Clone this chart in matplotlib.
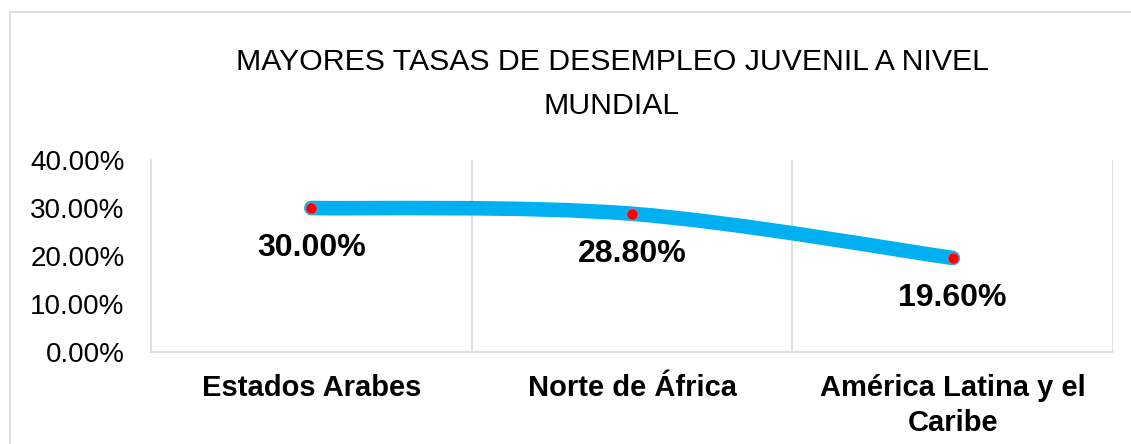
import matplotlib
matplotlib.use("Agg")
import matplotlib.pyplot as plt
from matplotlib.path import Path
from matplotlib.patches import PathPatch, Rectangle
import numpy as np

categories = ["Estados Arabes", "Norte de África", "América Latina y el\nCaribe"]
values = [0.30, 0.288, 0.196]
yticks = [0.0, 0.1, 0.2, 0.3, 0.4]
title = "MAYORES TASAS DE DESEMPLEO JUVENIL A NIVEL\nMUNDIAL"

plt.rcParams['font.family'] = ['Liberation Sans', 'DejaVu Sans']

fig = plt.figure(figsize=(11.31, 4.44), dpi=100)
ax = fig.add_axes([151/1131, 92/444, (1113-151)/1131, (352-160)/444])

# outer chart border
fig.patches.append(Rectangle((10/1131, -0.01), 1.02, (444-12)/444 + 0.01, transform=fig.transFigure,
                             fill=False, edgecolor='#D9D9D9', linewidth=1.2, clip_on=False))

x = np.arange(len(values))
y = np.array(values)

# smoothed line (Catmull-Rom style Bezier like Excel smoothing)
pts = list(zip(x, y))
verts = [pts[0]]
codes = [Path.MOVETO]
n = len(pts)
for i in range(n - 1):
    p0 = np.array(pts[i - 1] if i > 0 else pts[i])
    p1 = np.array(pts[i])
    p2 = np.array(pts[i + 1])
    p3 = np.array(pts[i + 2] if i + 2 < n else pts[i + 1])
    c1 = p1 + (p2 - p0) / 6
    c2 = p2 - (p3 - p1) / 6
    verts += [tuple(c1), tuple(c2), tuple(p2)]
    codes += [Path.CURVE4] * 3
path = Path(verts, codes)
ax.add_patch(PathPatch(path, fill=False, edgecolor='#00B0F0', linewidth=10.5,
                       capstyle='round', joinstyle='round', zorder=3))

ax.plot(x, y, linestyle='none', marker='o', markersize=8.5, markerfacecolor='#FF0000',
        markeredgecolor='#5B9BD5', markeredgewidth=1.0, zorder=4)

for xi, yi in zip(x, y):
    ax.annotate(f"{yi*100:.2f}%", (xi, yi), xytext=(0, -29), textcoords='offset points',
                ha='center', va='center', fontsize=23, fontweight='bold', color='black')

ax.set_xlim(-0.5, len(values) - 0.5)
ax.set_ylim(0, 0.4)
ax.set_yticks(yticks)
ax.set_yticklabels([f"{t*100:.2f}%" for t in yticks], fontsize=20)
ax.set_xticks(x)
ax.set_xticklabels(categories, fontsize=21, fontweight='bold', linespacing=1.32)
ax.tick_params(axis='both', length=0)
ax.tick_params(axis='y', pad=19)
ax.tick_params(axis='x', pad=16)

for b in [0.5, 1.5, 2.5]:
    ax.axvline(b, color='#D9D9D9', linewidth=1.2, zorder=1)

for s in ['top', 'right']:
    ax.spines[s].set_visible(False)
for s in ['left', 'bottom']:
    ax.spines[s].set_color('#D9D9D9')
    ax.spines[s].set_linewidth(1.2)

fig.text(612/1131, 1 - 84/444, title, ha='center', va='center', fontsize=21.8,
         linespacing=1.72, color='black')

fig.savefig("out.png", dpi=100)
